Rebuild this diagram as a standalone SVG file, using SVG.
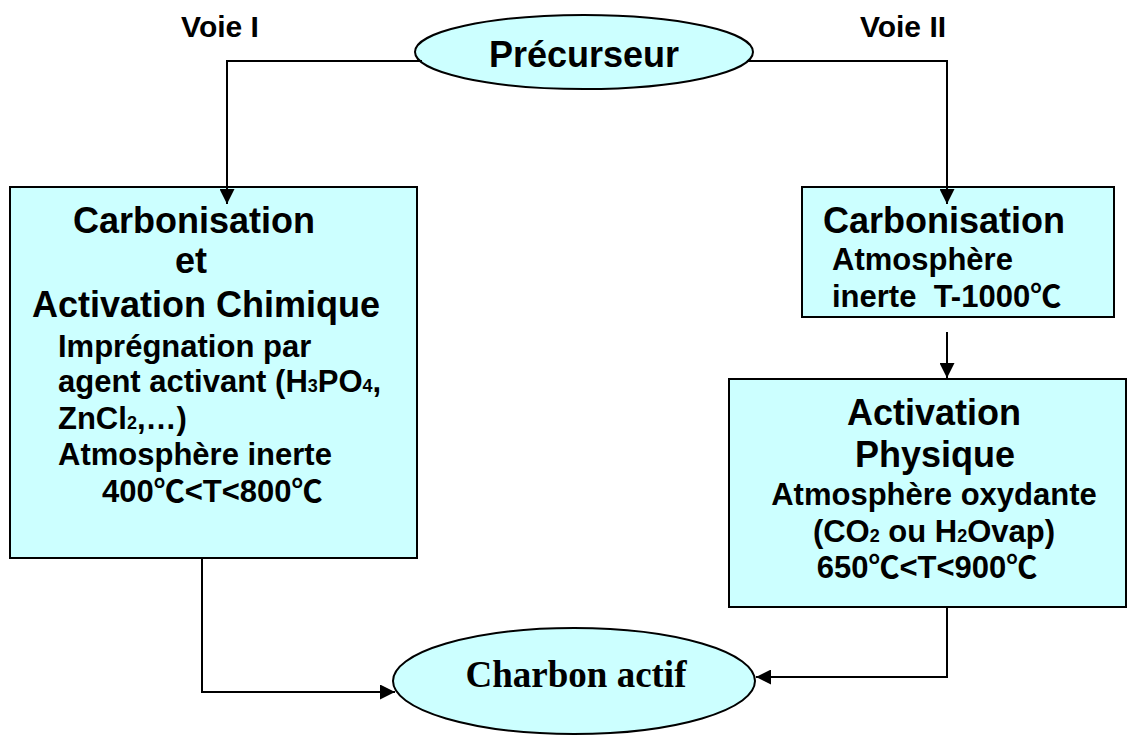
<svg xmlns="http://www.w3.org/2000/svg" width="1128" height="735" viewBox="0 0 1128 735">
  <style>
    .node { fill: #CCFFFF; stroke: #000; stroke-width: 2; }
    .conn { fill: none; stroke: #000; stroke-width: 2; }
    text { font-family: "Liberation Sans", "Noto Sans CJK SC", sans-serif; font-weight: bold; fill: #000; }
    .h { font-size: 36px; }
    .s { font-size: 31px; }
    .lbl { font-size: 30px; }
    .sub { font-size: 18px; }
    .serif { font-family: "Liberation Serif", serif; font-size: 37px; }
    .pre { white-space: pre; }
  </style>
  <defs>
    <marker id="arrow" viewBox="0 0 10 10" refX="10" refY="5" markerWidth="16" markerHeight="15" markerUnits="userSpaceOnUse" orient="auto">
      <path d="M0,0 L10,5 L0,10 z" fill="#000"/>
    </marker>
  </defs>

  <g id="labels">
    <text class="lbl" x="220" y="37" text-anchor="middle">Voie I</text>
    <text class="lbl" x="903" y="37" text-anchor="middle">Voie II</text>
  </g>

  <g id="precurseur">
    <ellipse class="node" cx="584" cy="52" rx="169" ry="37"/>
    <text class="h" x="584" y="67" text-anchor="middle">Précurseur</text>
  </g>

  <g id="voie1-box">
    <rect class="node" x="10" y="187" width="407" height="371"/>
    <text class="h" x="73" y="233">Carbonisation</text>
    <text class="h" x="175" y="273">et</text>
    <text class="h" x="32" y="317">Activation Chimique</text>
    <text class="s" x="58" y="357">Imprégnation par</text>
    <text class="s" x="58" y="392">agent activant (H<tspan class="sub">3</tspan>PO<tspan class="sub">4</tspan>,</text>
    <text class="s" x="58" y="429">ZnCl<tspan class="sub">2</tspan>,…)</text>
    <text class="s" x="58" y="465">Atmosphère inerte</text>
    <text class="s" x="102" y="502">400℃&lt;T&lt;800℃</text>
  </g>

  <g id="carbonisation-box">
    <rect class="node" x="802" y="187" width="312" height="130"/>
    <text class="h" x="823" y="233">Carbonisation</text>
    <text class="s" x="832" y="270">Atmosphère</text>
    <text class="s pre" x="832" y="307">inerte  T-1000℃</text>
  </g>

  <g id="activation-box">
    <rect class="node" x="729" y="379" width="397" height="228"/>
    <text class="h" x="934" y="425" text-anchor="middle">Activation</text>
    <text class="h" x="935" y="467" text-anchor="middle">Physique</text>
    <text class="s" x="934" y="505" text-anchor="middle">Atmosphère oxydante</text>
    <text class="s" x="934" y="542" text-anchor="middle">(CO<tspan class="sub">2</tspan> ou H<tspan class="sub">2</tspan>Ovap)</text>
    <text class="s" x="927" y="578" text-anchor="middle">650℃&lt;T&lt;900℃</text>
  </g>

  <g id="charbon">
    <ellipse class="node" cx="574" cy="681" rx="181" ry="53"/>
    <text class="serif" x="576" y="687" text-anchor="middle">Charbon actif</text>
  </g>

  <g id="connectors">
    <polyline class="conn" points="422,61 227,61 227,204" marker-end="url(#arrow)"/>
    <polyline class="conn" points="747,61 947,61 947,204" marker-end="url(#arrow)"/>
    <line class="conn" x1="947" y1="332" x2="947" y2="378" marker-end="url(#arrow)"/>
    <polyline class="conn" points="202,558 202,692 395,692" marker-end="url(#arrow)"/>
    <polyline class="conn" points="947,607 947,677 756,677" marker-end="url(#arrow)"/>
  </g>
</svg>
